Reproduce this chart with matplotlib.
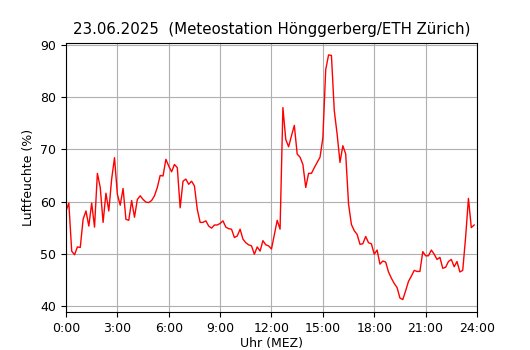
import numpy as np
import matplotlib.pyplot as plt

# Luftfeuchte in 10-Minuten-Schritten (0:00 .. 23:50)
feuchte = [
    58.2, 59.7, 50.5, 49.8, 51.3, 51.2, 56.6, 58.2, 55.3, 59.7,
    55.1, 65.4, 62.7, 56.0, 61.6, 58.2, 64.3, 68.4, 61.4, 59.3,
    62.5, 56.6, 56.4, 60.2, 57.0, 60.4, 61.1, 60.4, 59.9, 59.8,
    60.2, 61.1, 62.7, 65.0, 64.9, 68.1, 66.8, 65.7, 67.1, 66.5,
    58.8, 63.9, 64.3, 63.3, 63.9, 63.0, 58.5, 56.0, 56.0, 56.3,
    55.3, 54.9, 55.5, 55.5, 55.8, 56.3, 55.1, 54.8, 54.7, 53.1,
    53.4, 54.7, 52.8, 52.1, 51.7, 51.5, 49.9, 51.3, 50.5, 52.5,
    51.7, 51.5, 50.9, 53.7, 56.4, 54.7, 78.0, 71.9, 70.5, 72.6,
    74.6, 69.1, 68.5, 67.1, 62.7, 65.4, 65.4, 66.5, 67.5, 68.5,
    72.2, 85.3, 88.1, 88.0, 77.4, 72.9, 67.5, 70.7, 69.1, 59.5,
    55.6, 54.4, 53.7, 51.8, 51.9, 53.3, 52.1, 51.9, 49.9, 50.7,
    48.0, 48.6, 48.4, 46.5, 45.3, 44.3, 43.5, 41.5, 41.2, 42.9,
    44.7, 45.7, 46.8, 46.6, 46.6, 50.4, 49.6, 49.6, 50.7, 49.9,
    48.9, 49.3, 47.2, 47.4, 48.5, 48.9, 47.5, 48.5, 46.5, 46.8,
    53.1, 60.6, 55.0, 55.5,
]
stunden = np.arange(len(feuchte)) / 6.0

tick_pos = list(range(0, 25, 3))
tick_lab = ["%d:00" % h for h in tick_pos]

plt.rcParams["font.size"] = 9

fig = plt.figure(figsize=(5.3, 3.5), dpi=100)
ax = fig.add_axes([0.1245, 0.109, 0.7755, 0.769])

ax.plot(stunden, feuchte, color="red", linewidth=1)
ax.set_xlim(0, 24)
ax.set_xticks(tick_pos)
ax.set_xticklabels(tick_lab)
ax.grid(True)
ax.set_xlabel("Uhr (MEZ)", labelpad=2)
ax.set_ylabel("Luftfeuchte (%)")
ax.set_title("23.06.2025  (Meteostation Hönggerberg/ETH Zürich)", fontsize=10.8)

fig.savefig("out.png", dpi=100)
